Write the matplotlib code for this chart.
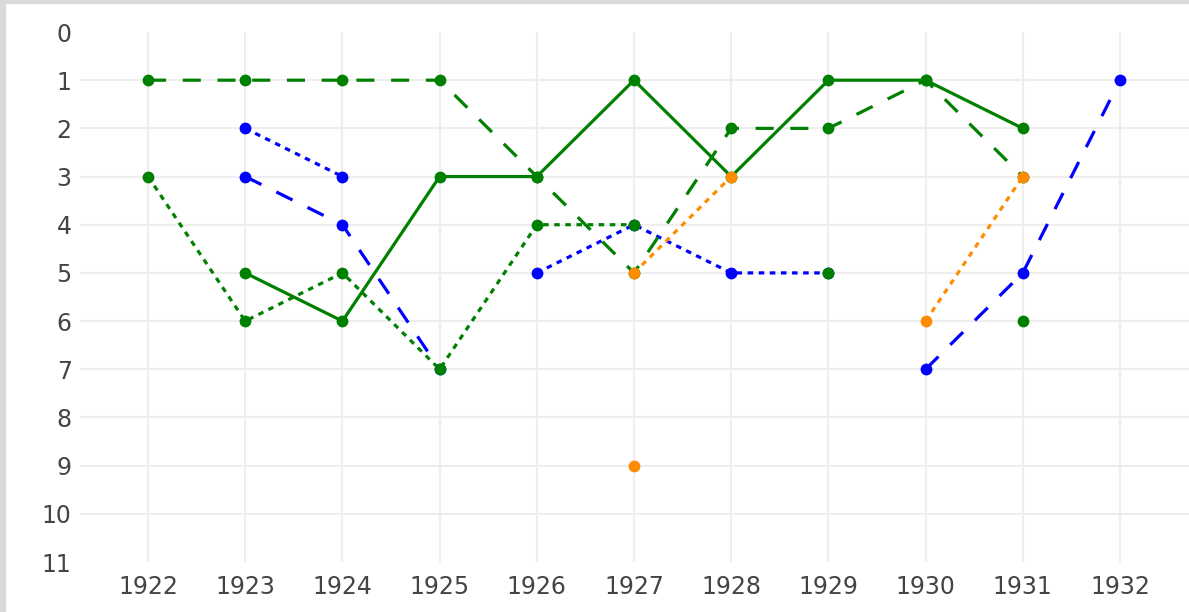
import numpy as np
import matplotlib
matplotlib.use('Agg')
import matplotlib.pyplot as plt
from matplotlib.patches import Rectangle

plt.rcParams['font.family'] = ['DejaVu Sans']
plt.rcParams['lines.scale_dashes'] = False

years = list(range(1922, 1933))
nan = np.nan

# 순위 데이터 (None = 해당 연도 없음)
blue_dot = [nan, 2, 3, nan, 5, 4, 5, 5, nan, nan, nan]
blue_dash = [nan, 3, 4, 7, nan, nan, nan, nan, 7, 5, 1]
green_solid = [nan, 5, 6, 3, 3, 1, 3, 1, 1, 2, nan]
green_dash = [1, 1, 1, 1, 3, 5, 2, 2, 1, 3, nan]
green_dot = [3, 6, 5, 7, 4, 4, nan, 5, nan, 6, nan]
orange_dot = [nan, nan, nan, nan, nan, 5, 3, nan, 6, 3, nan]
orange_single = [nan, nan, nan, nan, nan, 9, nan, nan, nan, nan, nan]

DASH = (0, (13, 12))
DOT = (0, (4, 4))

series = [
    (blue_dot, 'blue', DOT),
    (blue_dash, 'blue', DASH),
    (green_solid, 'green', '-'),
    (green_dash, 'green', DASH),
    (green_dot, 'green', DOT),
    (orange_dot, 'darkorange', DOT),
    (orange_single, 'darkorange', DOT),
]

fig = plt.figure(figsize=(11.89, 6.12), dpi=100)
ax = fig.add_axes([80 / 1189, 1 - 562 / 612, 1 - 80 / 1189, 530 / 612])

for y in range(1, 11):
    ax.axhline(y, color='#eeeeee', lw=1.5, zorder=0)
for x in years:
    ax.axvline(x, color='#eeeeee', lw=1.5, zorder=0)

for vals, color, ls in series:
    ax.plot(years, vals, color=color, linestyle=ls, lw=2.3,
            marker='o', markersize=8.5, markeredgewidth=0)

ax.set_xlim(1921.3, 1932.71)
ax.set_ylim(11, 0)
ax.set_xticks(years)
ax.set_yticks(range(0, 12))
ax.tick_params(length=0, labelsize=17, labelcolor='#444444')
ax.tick_params(axis='x', pad=9)
ax.tick_params(axis='y', pad=6)
for s in ax.spines.values():
    s.set_visible(False)

# 스크린샷 테두리
fig.patches.append(Rectangle((0, 1 - 3 / 612), 1, 3 / 612, transform=fig.transFigure,
                             color='#d9d9d9', zorder=10))
fig.patches.append(Rectangle((0, 0), 5 / 1189, 1, transform=fig.transFigure,
                             color='#d9d9d9', zorder=10))

fig.savefig('out.png', dpi=100)
